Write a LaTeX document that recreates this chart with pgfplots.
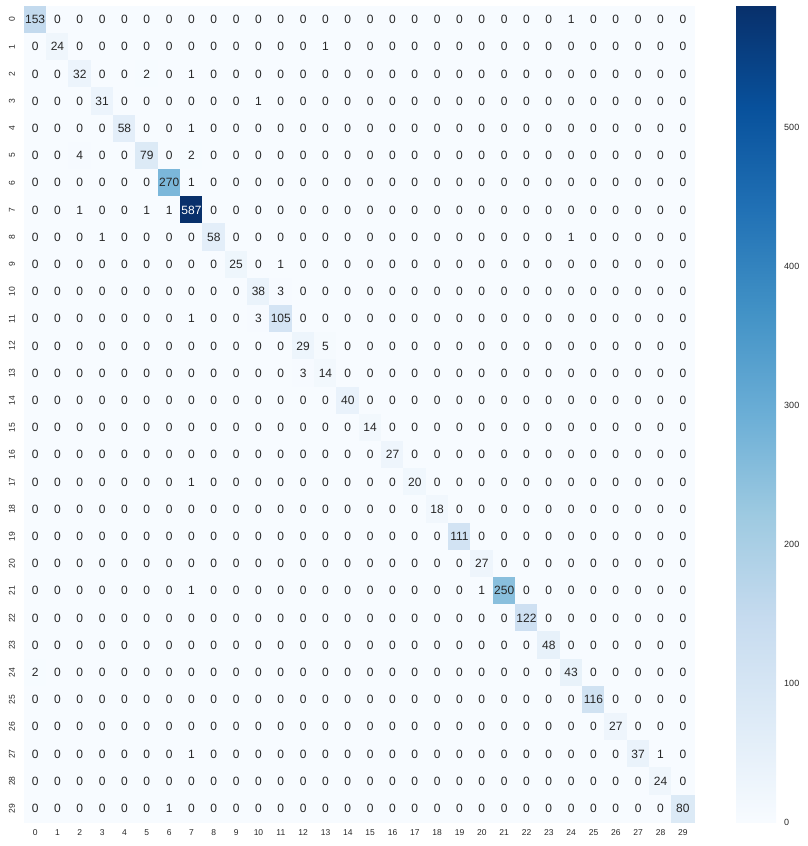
\documentclass[border=0pt]{standalone}
\usepackage{pgfplots}
\pgfplotsset{compat=1.18}
\usepackage{pgfplotstable}
\usepackage{fontspec}
\setmainfont{Liberation Sans}
\definecolor{txt}{HTML}{262626}
\pgfplotstableread{
c0 c1 c2 c3 c4 c5 c6 c7 c8 c9 c10 c11 c12 c13 c14 c15 c16 c17 c18 c19 c20 c21 c22 c23 c24 c25 c26 c27 c28 c29
153 0 0 0 0 0 0 0 0 0 0 0 0 0 0 0 0 0 0 0 0 0 0 0 1 0 0 0 0 0
0 24 0 0 0 0 0 0 0 0 0 0 0 1 0 0 0 0 0 0 0 0 0 0 0 0 0 0 0 0
0 0 32 0 0 2 0 1 0 0 0 0 0 0 0 0 0 0 0 0 0 0 0 0 0 0 0 0 0 0
0 0 0 31 0 0 0 0 0 0 1 0 0 0 0 0 0 0 0 0 0 0 0 0 0 0 0 0 0 0
0 0 0 0 58 0 0 1 0 0 0 0 0 0 0 0 0 0 0 0 0 0 0 0 0 0 0 0 0 0
0 0 4 0 0 79 0 2 0 0 0 0 0 0 0 0 0 0 0 0 0 0 0 0 0 0 0 0 0 0
0 0 0 0 0 0 270 1 0 0 0 0 0 0 0 0 0 0 0 0 0 0 0 0 0 0 0 0 0 0
0 0 1 0 0 1 1 587 0 0 0 0 0 0 0 0 0 0 0 0 0 0 0 0 0 0 0 0 0 0
0 0 0 1 0 0 0 0 58 0 0 0 0 0 0 0 0 0 0 0 0 0 0 0 1 0 0 0 0 0
0 0 0 0 0 0 0 0 0 25 0 1 0 0 0 0 0 0 0 0 0 0 0 0 0 0 0 0 0 0
0 0 0 0 0 0 0 0 0 0 38 3 0 0 0 0 0 0 0 0 0 0 0 0 0 0 0 0 0 0
0 0 0 0 0 0 0 1 0 0 3 105 0 0 0 0 0 0 0 0 0 0 0 0 0 0 0 0 0 0
0 0 0 0 0 0 0 0 0 0 0 0 29 5 0 0 0 0 0 0 0 0 0 0 0 0 0 0 0 0
0 0 0 0 0 0 0 0 0 0 0 0 3 14 0 0 0 0 0 0 0 0 0 0 0 0 0 0 0 0
0 0 0 0 0 0 0 0 0 0 0 0 0 0 40 0 0 0 0 0 0 0 0 0 0 0 0 0 0 0
0 0 0 0 0 0 0 0 0 0 0 0 0 0 0 14 0 0 0 0 0 0 0 0 0 0 0 0 0 0
0 0 0 0 0 0 0 0 0 0 0 0 0 0 0 0 27 0 0 0 0 0 0 0 0 0 0 0 0 0
0 0 0 0 0 0 0 1 0 0 0 0 0 0 0 0 0 20 0 0 0 0 0 0 0 0 0 0 0 0
0 0 0 0 0 0 0 0 0 0 0 0 0 0 0 0 0 0 18 0 0 0 0 0 0 0 0 0 0 0
0 0 0 0 0 0 0 0 0 0 0 0 0 0 0 0 0 0 0 111 0 0 0 0 0 0 0 0 0 0
0 0 0 0 0 0 0 0 0 0 0 0 0 0 0 0 0 0 0 0 27 0 0 0 0 0 0 0 0 0
0 0 0 0 0 0 0 1 0 0 0 0 0 0 0 0 0 0 0 0 1 250 0 0 0 0 0 0 0 0
0 0 0 0 0 0 0 0 0 0 0 0 0 0 0 0 0 0 0 0 0 0 122 0 0 0 0 0 0 0
0 0 0 0 0 0 0 0 0 0 0 0 0 0 0 0 0 0 0 0 0 0 0 48 0 0 0 0 0 0
2 0 0 0 0 0 0 0 0 0 0 0 0 0 0 0 0 0 0 0 0 0 0 0 43 0 0 0 0 0
0 0 0 0 0 0 0 0 0 0 0 0 0 0 0 0 0 0 0 0 0 0 0 0 0 116 0 0 0 0
0 0 0 0 0 0 0 0 0 0 0 0 0 0 0 0 0 0 0 0 0 0 0 0 0 0 27 0 0 0
0 0 0 0 0 0 0 1 0 0 0 0 0 0 0 0 0 0 0 0 0 0 0 0 0 0 0 37 1 0
0 0 0 0 0 0 0 0 0 0 0 0 0 0 0 0 0 0 0 0 0 0 0 0 0 0 0 0 24 0
0 0 0 0 0 0 1 0 0 0 0 0 0 0 0 0 0 0 0 0 0 0 0 0 0 0 0 0 0 80
}\cm
\begin{document}
\begin{tikzpicture}
\useasboundingbox (0,0) rectangle (807pt,846pt);
\begin{axis}[
  at={(24pt,24pt)}, anchor=south west,
  scale only axis, width=670pt, height=816pt,
  xmin=-0.5, xmax=29.5, ymin=-0.5, ymax=29.5,
  xtick={0,...,29}, ytick={0,...,29},
  yticklabels={29,28,27,26,25,24,23,22,21,20,19,18,17,16,15,14,13,12,11,10,9,8,7,6,5,4,3,2,1,0},
  axis line style={draw=none}, major tick length=0pt,
  /pgf/number format/assume math mode=true,
  ticklabel style={font=\fontsize{8.5}{10}\selectfont, text=txt},
  xticklabel style={anchor=center, yshift=-11pt},
  yticklabel style={xshift=-12pt, rotate=90, anchor=center},
  colormap={blues}{rgb255=(247,251,255) rgb255=(222,235,247) rgb255=(198,219,239) rgb255=(158,202,225) rgb255=(107,174,214) rgb255=(66,146,198) rgb255=(33,113,181) rgb255=(8,81,156) rgb255=(8,48,107)},
  point meta min=0, point meta max=587,
  colorbar,
  colorbar/width=40pt,
  colorbar style={
    at={(parent axis.north east)}, anchor=north west, xshift=33.5pt,
    scale only axis, width=40pt, height=816pt,
    axis line style={draw=none}, major tick length=0pt,
    ytick={0,100,200,300,400,500},
    /pgf/number format/assume math mode=true,
    yticklabel style={font=\fontsize{9}{10}\selectfont, text=txt, anchor=west, inner sep=0pt, xshift=8pt},
  },
]
\pgfplotsinvokeforeach{0,...,29}{
  \addplot[scatter, only marks, mark=square*, mark size=11.1667pt,
    mark options={yscale=1.2179},
    scatter/use mapped color={draw=mapped color, fill=mapped color},
    point meta=explicit]
    table[x expr=#1, y expr={29-\coordindex}, meta=c#1] {\cm};
}
\pgfplotsinvokeforeach{0,...,29}{
  \addplot[only marks, mark=none, point meta=explicit symbolic,
    nodes near coords={\ifnum\pgfplotspointmeta>400 \color{white}\fi\pgfplotspointmeta},
    every node near coord/.append style={anchor=center, inner sep=0pt, font=\fontsize{12}{14}\selectfont, text=txt}]
    table[x expr=#1, y expr={29-\coordindex}, meta=c#1] {\cm};
}
\end{axis}
\end{tikzpicture}
\end{document}
